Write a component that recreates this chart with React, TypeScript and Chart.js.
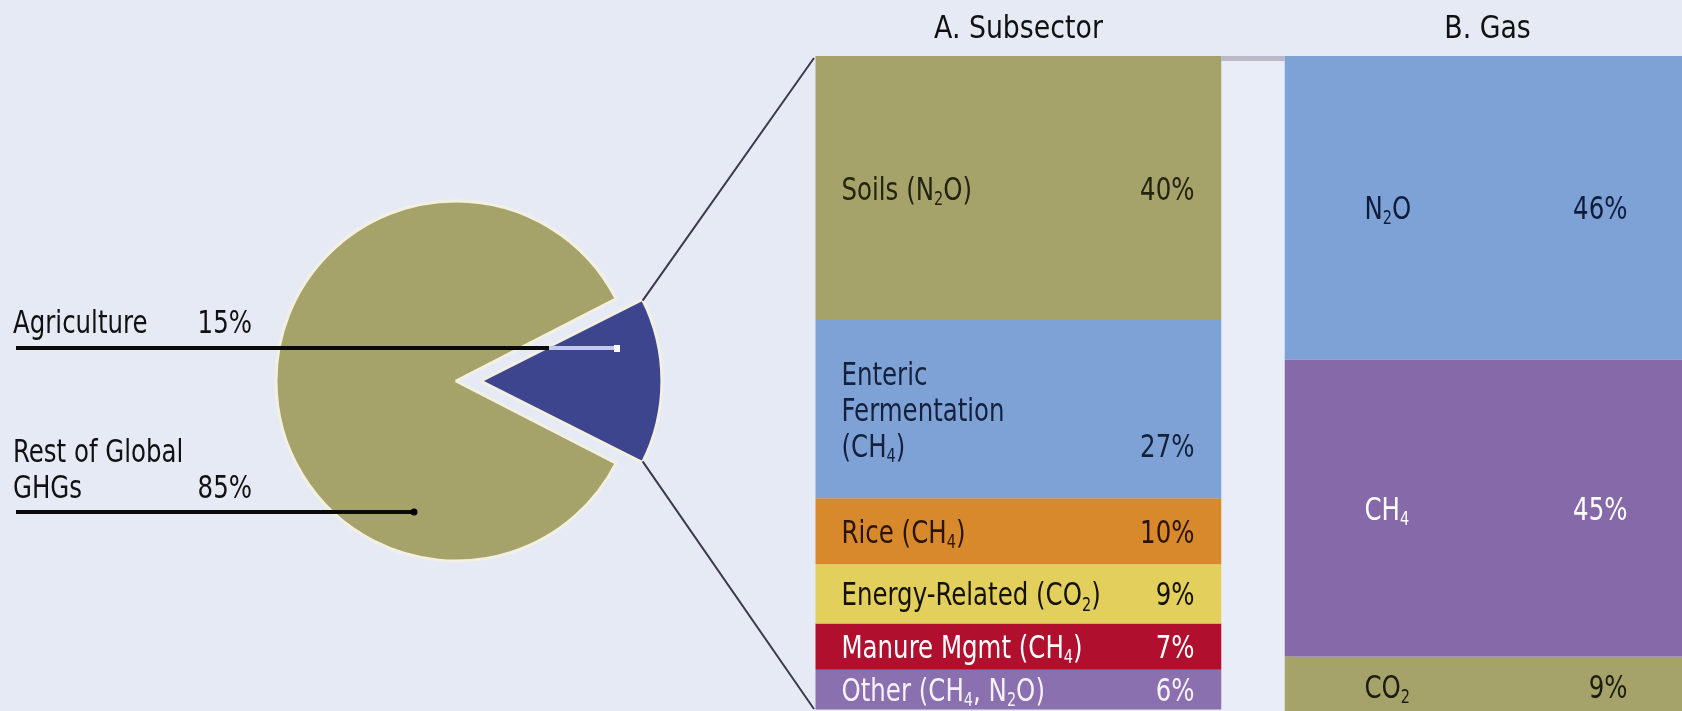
import React, { useEffect, useRef } from 'react';
import { Chart, registerables } from 'chart.js';

Chart.register(...registerables);

// ---------- data ----------
const pieLabels = ['Agriculture', 'Rest of Global GHGs'];
const pieLabelLines = [['Agriculture'], ['Rest of Global', 'GHGs']];
const pieValues = [15, 85];

const barCategories = ['A. Subsector', 'B. Gas'];
const subsectorLabels = [
  'Soils (N_2O)',
  'Enteric\nFermentation\n(CH_4)',
  'Rice (CH_4)',
  'Energy-Related (CO_2)',
  'Manure Mgmt (CH_4)',
  'Other (CH_4, N_2O)',
];
const subsectorValues = [40, 27, 10, 9, 7, 6];
const gasLabels = ['N_2O', 'CH_4', 'CO_2'];
const gasValues = [46, 45, 9];

// ---------- styles ----------
const BG = '#e6eaf5';
const FONT = "'Liberation Sans Narrow', 'DejaVu Sans Condensed', 'Arial Narrow', sans-serif";
const FS = 32;
const SX = 0.85;
const pieColors = ['#3c458d', '#a5a36a'];
const subsectorColors = ['#a5a36a', '#7ea2d6', '#d8892c', '#e2cf5c', '#b0102e', '#8a70ae'];
const subsectorTextColors = ['#23230f', '#14203c', '#2a1505', '#141208', '#ffffff', '#f6f2fb'];
const gasColors = ['#7ea2d6', '#8669a8', '#a5a36a'];
const gasTextColors = ['#101c3c', '#ffffff', '#1c1c10'];

type Part = { t: string; sub: boolean };
function parseRich(s: string): Part[] {
  const parts: Part[] = [];
  let buf = '';
  for (let i = 0; i < s.length; i++) {
    if (s[i] === '_' && i + 1 < s.length) {
      if (buf) parts.push({ t: buf, sub: false });
      buf = '';
      parts.push({ t: s[i + 1], sub: true });
      i++;
    } else buf += s[i];
  }
  if (buf) parts.push({ t: buf, sub: false });
  return parts;
}

function drawRich(
  ctx: CanvasRenderingContext2D,
  s: string,
  x: number,
  y: number,
  size: number,
  align: string,
  color: string,
  sx: number = SX
) {
  const parts = parseRich(s);
  const main = `${size}px ${FONT}`;
  const sub = `${Math.round(size * 0.6)}px ${FONT}`;
  let w = 0;
  const widths: number[] = [];
  for (const p of parts) {
    ctx.font = p.sub ? sub : main;
    const pw = ctx.measureText(p.t).width * sx;
    widths.push(pw);
    w += pw;
  }
  let cx = align === 'right' ? x - w : align === 'center' ? x - w / 2 : x;
  ctx.textAlign = 'left';
  ctx.textBaseline = 'alphabetic';
  ctx.fillStyle = color;
  parts.forEach((p, i) => {
    ctx.font = p.sub ? sub : main;
    ctx.save();
    ctx.translate(cx, p.sub ? y + size * 0.16 : y);
    ctx.scale(sx, 1);
    ctx.fillText(p.t, 0, 0);
    ctx.restore();
    cx += widths[i];
  });
}

const piePlugin = {
  id: 'pieAnno',
  afterDraw(chart: any) {
    const ctx: CanvasRenderingContext2D = chart.ctx;
    ctx.save();
    // labels on the left
    const textYs = [[333], [462, 498]];
    pieLabelLines.forEach((lines, i) => {
      lines.forEach((ln, k) => drawRich(ctx, ln, 13, textYs[i][k], FS, 'left', '#111111'));
      drawRich(ctx, `${pieValues[i]}%`, 252, textYs[i][lines.length - 1], FS, 'right', '#111111');
    });
    // leader lines
    ctx.lineCap = 'butt';
    ctx.strokeStyle = '#0a0a0a';
    ctx.lineWidth = 4;
    ctx.beginPath();
    ctx.moveTo(16, 348);
    ctx.lineTo(549, 348);
    ctx.stroke();
    ctx.strokeStyle = '#c2c8ee';
    ctx.beginPath();
    ctx.moveTo(549, 348);
    ctx.lineTo(616, 348);
    ctx.stroke();
    ctx.fillStyle = '#ffffff';
    ctx.fillRect(614, 345, 6, 7);
    ctx.strokeStyle = '#0a0a0a';
    ctx.beginPath();
    ctx.moveTo(16, 512);
    ctx.lineTo(414, 512);
    ctx.stroke();
    ctx.fillStyle = '#000000';
    ctx.beginPath();
    ctx.arc(414, 512, 3.5, 0, Math.PI * 2);
    ctx.fill();

    // connecting lines from wedge corners to bar A
    const arc = chart.getDatasetMeta(0).data[0];
    const p = arc.getProps(['x', 'y', 'startAngle', 'endAngle', 'outerRadius'], true);
    const off = (arc.options.offset || 0) / 4;
    const circ = p.endAngle - p.startAngle;
    const fix = 1 - Math.sin(Math.min(Math.PI, circ));
    const t = off * (1 + fix);
    const half = (p.startAngle + p.endAngle) / 2;
    const cx = p.x + Math.cos(half) * t;
    const cy = p.y + Math.sin(half) * t;
    const R = p.outerRadius;
    const c1 = [cx + R * Math.cos(p.startAngle), cy + R * Math.sin(p.startAngle)];
    const c2 = [cx + R * Math.cos(p.endAngle), cy + R * Math.sin(p.endAngle)];
    ctx.strokeStyle = '#3a3a4a';
    ctx.lineWidth = 2;
    ctx.beginPath();
    ctx.moveTo(c1[0], c1[1]);
    ctx.lineTo(814, 58);
    ctx.moveTo(c2[0], c2[1]);
    ctx.lineTo(814, 709);
    ctx.stroke();
    ctx.restore();
  },
};

const nA = subsectorValues.length;

const barPlugin = {
  id: 'barAnno',
  afterDatasetsDraw(chart: any) {
    const ctx: CanvasRenderingContext2D = chart.ctx;
    ctx.save();
    const elA = chart.getDatasetMeta(0).data[0];
    const elB = chart.getDatasetMeta(nA).data[1];
    const a = elA.getProps(['x', 'width'], true);
    const b = elB.getProps(['x', 'width'], true);
    const gx = a.x + a.width / 2;
    const gw = b.x - b.width / 2 - gx;
    // gap panel
    ctx.fillStyle = '#e9edf8';
    ctx.fillRect(gx, 61, gw, 700);
    ctx.fillStyle = '#bdb8c8';
    ctx.fillRect(gx, 56, gw, 5);

    chart.data.datasets.forEach((ds: any, di: number) => {
      const isA = di < nA;
      const idx = isA ? 0 : 1;
      const el = chart.getDatasetMeta(di).data[idx];
      const { x, y, base, width } = el.getProps(['x', 'y', 'base', 'width'], true);
      const top = Math.min(y, base);
      const bot = Math.max(y, base);
      const mid = (top + bot) / 2;
      const left = x - width / 2;
      const lines = String(ds.label).split('\n');
      const lh = 36;
      const first = mid - ((lines.length - 1) * lh) / 2;
      const color = isA ? subsectorTextColors[di] : gasTextColors[di - nA];
      const value = isA ? subsectorValues[di] : gasValues[di - nA];
      lines.forEach((ln: string, k: number) =>
        drawRich(ctx, ln, left + (isA ? 26 : 80), first + k * lh + FS * 0.36, FS, 'left', color)
      );
      drawRich(
        ctx,
        `${value}%`,
        left + (isA ? width - 27 : 343),
        first + (lines.length - 1) * lh + FS * 0.36,
        FS,
        'right',
        color
      );
    });

    // panel titles
    barCategories.forEach((c, i) => {
      const px = chart.scales.x.getPixelForValue(i);
      drawRich(ctx, c, px, 38, FS, 'center', '#111111', 0.93);
    });
    ctx.restore();
  },
};

export default function App() {
  const pieRef = useRef<HTMLCanvasElement>(null);
  const barRef = useRef<HTMLCanvasElement>(null);

  useEffect(() => {
    document.body.style.margin = '0';
    const pie = new Chart(pieRef.current as HTMLCanvasElement, {
      type: 'pie',
      data: {
        labels: pieLabels,
        datasets: [
          {
            data: pieValues,
            backgroundColor: pieColors,
            borderColor: '#f2f0e2',
            borderWidth: 3,
            offset: [87, 12],
          } as any,
        ],
      },
      options: {
        responsive: false,
        animation: false,
        rotation: 63,
        radius: 177,
        events: [],
        layout: { padding: { left: 102, top: 51, right: 0, bottom: 0 } },
        plugins: { legend: { display: false }, tooltip: { enabled: false } },
      } as any,
      plugins: [piePlugin],
    });

    const datasets: any[] = [];
    subsectorValues.forEach((v, i) =>
      datasets.push({ label: subsectorLabels[i], data: [v, null], backgroundColor: subsectorColors[i], borderWidth: 0 })
    );
    gasValues.forEach((v, i) =>
      datasets.push({ label: gasLabels[i], data: [null, v], backgroundColor: gasColors[i], borderWidth: 0 })
    );

    const bar = new Chart(barRef.current as HTMLCanvasElement, {
      type: 'bar',
      data: { labels: barCategories, datasets },
      options: {
        responsive: false,
        animation: false,
        events: [],
        layout: { padding: { left: 0, right: 0, top: 56, bottom: 0 } },
        datasets: { bar: { barPercentage: 1, categoryPercentage: 406 / 469 } },
        scales: {
          x: { stacked: true, display: false },
          y: { stacked: true, display: false, min: 0, max: 100, reverse: true },
        },
        plugins: { legend: { display: false }, tooltip: { enabled: false } },
      } as any,
      plugins: [barPlugin],
    });

    return () => {
      pie.destroy();
      bar.destroy();
    };
  }, []);

  return (
    <div
      style={{
        position: 'fixed',
        left: 0,
        top: 0,
        width: 1682,
        height: 711,
        overflow: 'hidden',
        background: BG,
      }}
    >
      <canvas ref={pieRef} width={816} height={711} style={{ position: 'absolute', left: 0, top: 0 }} />
      <canvas ref={barRef} width={938} height={716} style={{ position: 'absolute', left: 784, top: 0 }} />
    </div>
  );
}
